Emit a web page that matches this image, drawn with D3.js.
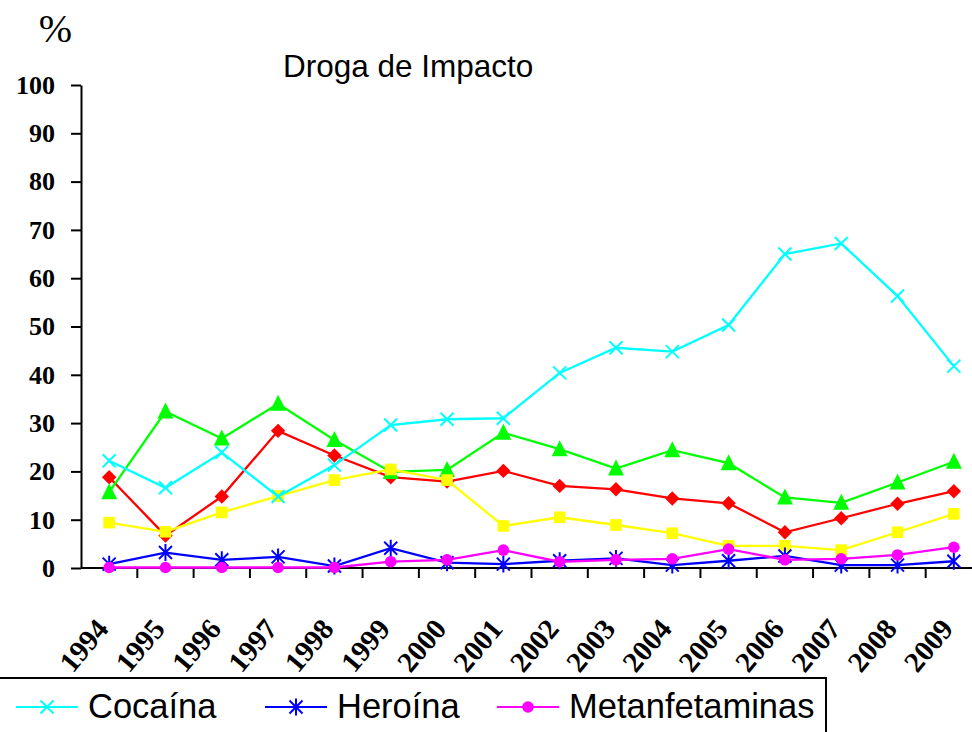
<!DOCTYPE html>
<html>
<head>
<meta charset="utf-8">
<script src="https://cdn.jsdelivr.net/npm/d3@7/dist/d3.min.js"></script>
<style>
  html, body { margin: 0; padding: 0; background: #fff; }
  svg { display: block; }
</style>
</head>
<body>
<svg id="chart" width="972" height="732"></svg>
<script>
// Años (categorías del eje X)
const years = ["1994","1995","1996","1997","1998","1999","2000","2001","2002","2003","2004","2005","2006","2007","2008","2009"];

// Porcentaje de casos según droga de impacto
const cocaina        = [22.2, 16.6, 23.9, 14.8, 21.3, 29.6, 30.8, 31.0, 40.4, 45.6, 44.8, 50.3, 65.0, 67.2, 56.3, 41.8];
const heroina        = [0.8, 3.2, 1.7, 2.3, 0.4, 4.1, 1.1, 0.8, 1.5, 2.0, 0.6, 1.5, 2.5, 0.6, 0.6, 1.4];
const metanfetaminas = [0.1, 0.1, 0.1, 0.1, 0.1, 1.3, 1.7, 3.7, 1.3, 1.7, 1.9, 3.9, 1.7, 1.9, 2.7, 4.3];
const serieVerde     = [15.7, 32.4, 26.8, 34.0, 26.5, 19.9, 20.3, 28.0, 24.6, 20.6, 24.4, 21.7, 14.6, 13.5, 17.7, 22.0];
const serieRoja      = [18.8, 6.7, 14.8, 28.4, 23.3, 18.8, 17.9, 20.1, 17.0, 16.3, 14.4, 13.4, 7.4, 10.3, 13.3, 15.9];
const serieAmarilla  = [9.4, 7.5, 11.5, 14.9, 18.2, 20.4, 18.2, 8.7, 10.5, 8.9, 7.2, 4.6, 4.6, 3.7, 7.4, 11.2];

// Marcas del eje Y
const yTicks = [0, 10, 20, 30, 40, 50, 60, 70, 80, 90, 100];

// Series en orden de dibujo (las últimas quedan encima)
const series = [
  { name: "serieRoja",      values: serieRoja,      color: "#ff0000", marker: "diamond" },
  { name: "serieVerde",     values: serieVerde,     color: "#00ff00", marker: "triangle" },
  { name: "serieAmarilla",  values: serieAmarilla,  color: "#ffff00", marker: "square" },
  { name: "Cocaína",        values: cocaina,        color: "#00ffff", marker: "x" },
  { name: "Heroína",        values: heroina,        color: "#0000ff", marker: "asterisk" },
  { name: "Metanfetaminas", values: metanfetaminas, color: "#ff00ff", marker: "circle" }
];

const legendItems = [
  { name: "Cocaína",        color: "#00ffff", marker: "x" },
  { name: "Heroína",        color: "#0000ff", marker: "asterisk" },
  { name: "Metanfetaminas", color: "#ff00ff", marker: "circle" }
];

const svg = d3.select("#chart");

const x = d3.scaleBand().domain(years).range([81, 982]).padding(0);
const y = d3.scaleLinear().domain([0, 100]).range([568, 85]);
const cx = d => x(d) + x.bandwidth() / 2;

// Dibuja un marcador centrado en (0,0)
function drawMarker(g, type, color) {
  if (type === "x") {
    const r = 6.5;
    g.append("path").attr("d", `M${-r},${-r}L${r},${r}M${-r},${r}L${r},${-r}`)
      .attr("stroke", color).attr("stroke-width", 2).attr("fill", "none");
  } else if (type === "asterisk") {
    const r = 6.5;
    g.append("path").attr("d", `M${-r},${-r}L${r},${r}M${-r},${r}L${r},${-r}M0,${-r * 1.3}L0,${r * 1.3}`)
      .attr("stroke", color).attr("stroke-width", 2).attr("fill", "none");
  } else if (type === "circle") {
    g.append("circle").attr("r", 5.8).attr("fill", color);
  } else if (type === "square") {
    g.append("rect").attr("x", -5.8).attr("y", -5.8).attr("width", 11.6).attr("height", 11.6).attr("fill", color);
  } else if (type === "diamond") {
    const r = 7.2;
    g.append("path").attr("d", `M0,${-r}L${r},0L0,${r}L${-r},0Z`).attr("fill", color);
  } else if (type === "triangle") {
    const s = 8;
    g.append("path").attr("d", `M0,${-s - 1}L${s},${s - 1}L${-s},${s - 1}Z`).attr("fill", color);
  }
}

// Eje Y
const yAxis = svg.append("g")
  .attr("transform", "translate(81,0)")
  .call(d3.axisLeft(y).tickValues(yTicks).tickSize(10).tickSizeOuter(0).tickPadding(16));
yAxis.select(".domain").attr("stroke", "#000").attr("stroke-width", 2);
yAxis.selectAll(".tick line").attr("stroke", "#000").attr("stroke-width", 2);
yAxis.selectAll(".tick text")
  .attr("font-family", "'Liberation Serif', 'Times New Roman', serif")
  .attr("font-weight", "bold")
  .attr("font-size", 26)
  .attr("fill", "#000");

// Eje X: línea base y marcas en los límites de cada categoría
const xAxis = svg.append("g");
xAxis.append("line")
  .attr("x1", x.range()[0]).attr("x2", x.range()[1])
  .attr("y1", y(0)).attr("y2", y(0))
  .attr("stroke", "#000").attr("stroke-width", 2);
xAxis.selectAll("line.tick")
  .data(years.slice(1).concat(["end"]))
  .join("line")
  .attr("class", "tick")
  .attr("x1", d => d === "end" ? x.range()[1] : x(d))
  .attr("x2", d => d === "end" ? x.range()[1] : x(d))
  .attr("y1", y(0)).attr("y2", y(0) + 10)
  .attr("stroke", "#000").attr("stroke-width", 2);
xAxis.selectAll("text")
  .data(years)
  .join("text")
  .attr("transform", d => `translate(${cx(d) - 7},${y(0) + 55}) rotate(-50)`)
  .attr("text-anchor", "end")
  .attr("dy", "0.35em")
  .attr("font-family", "'Liberation Serif', 'Times New Roman', serif")
  .attr("font-weight", "bold")
  .attr("font-size", 29)
  .attr("fill", "#000")
  .text(d => d);

// Líneas y marcadores
const line = d3.line().x((v, i) => cx(years[i])).y(v => y(v));
series.forEach(s => {
  const g = svg.append("g");
  g.append("path")
    .attr("d", line(s.values))
    .attr("fill", "none")
    .attr("stroke", s.color)
    .attr("stroke-width", 2.3);
  s.values.forEach((v, i) => {
    const m = g.append("g").attr("transform", `translate(${cx(years[i])},${y(v)})`);
    drawMarker(m, s.marker, s.color);
  });
});

// Títulos
svg.append("text")
  .attr("x", 55.5).attr("y", 42)
  .attr("text-anchor", "middle")
  .attr("font-family", "'Liberation Serif', 'Times New Roman', serif")
  .attr("font-size", 40)
  .attr("fill", "#000")
  .text("%");

svg.append("text")
  .attr("x", 283).attr("y", 77)
  .attr("font-family", "'Liberation Sans', Arial, sans-serif")
  .attr("font-size", 31.5)
  .attr("fill", "#000")
  .text("Droga de Impacto");

// Leyenda
const legend = svg.append("g");
legend.append("rect")
  .attr("x", -2).attr("y", 678)
  .attr("width", 828).attr("height", 90)
  .attr("fill", "#fff")
  .attr("stroke", "#000").attr("stroke-width", 2);
const legendX = [16, 265, 497];
legendItems.forEach((it, i) => {
  const x0 = legendX[i];
  const ly = 707;
  legend.append("line")
    .attr("x1", x0).attr("x2", x0 + 62)
    .attr("y1", ly).attr("y2", ly)
    .attr("stroke", it.color).attr("stroke-width", 2.2);
  const m = legend.append("g").attr("transform", `translate(${x0 + 31},${ly})`);
  drawMarker(m, it.marker, it.color);
  legend.append("text")
    .attr("x", x0 + 72).attr("y", 718)
    .attr("font-family", "'Liberation Sans', Arial, sans-serif")
    .attr("font-size", 34.5)
    .attr("fill", "#000")
    .text(it.name);
});
</script>
</body>
</html>
